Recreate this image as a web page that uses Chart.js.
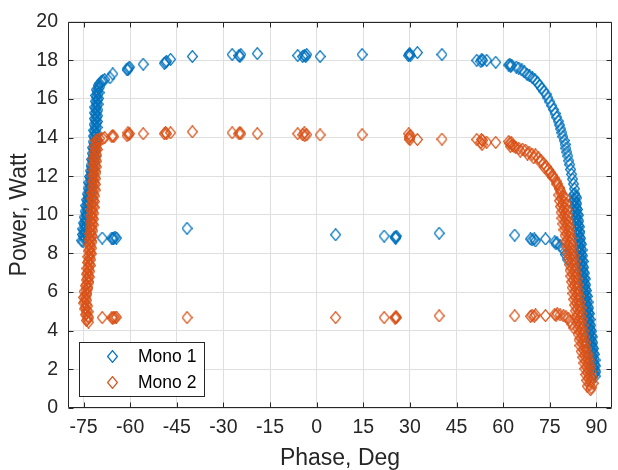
<!DOCTYPE html>
<html>
<head>
<meta charset="utf-8">
<script src="https://cdn.jsdelivr.net/npm/chart.js@4.4.1/dist/chart.umd.min.js"></script>
<style>
  html, body { margin: 0; padding: 0; background: #fff; }
  canvas { display: block; }
</style>
</head>
<body>
<canvas id="myChart" width="618" height="470"></canvas>
<script>
// axis ticks
const xTicks = [-75, -60, -45, -30, -15, 0, 15, 30, 45, 60, 75, 90];
const yTicks = [0, 2, 4, 6, 8, 10, 12, 14, 16, 18, 20];

// Mono 1: steep rise at the left edge (two sweeps)
const m1RisePhase = [-75.2, -74.8, -75.1, -74.7, -74.9, -74.5, -74.7, -74.3, -74.5, -74.1,
  -74.2, -73.8, -74.0, -73.6, -73.7, -73.3, -73.5, -73.1, -73.2, -72.8,
  -73.0, -72.6, -72.8, -72.4, -72.5, -72.1, -72.3, -71.9, -72.1, -71.7,
  -71.9, -71.5, -71.8, -71.4, -71.6, -71.2, -71.5, -71.1, -71.4, -71.0,
  -71.3, -70.9, -71.2, -70.8, -71.1, -70.7, -71.0, -70.7, -70.9, -70.5,
  -70.8, -70.4, -70.6, -70.2, -70.3, -69.8, -69.3, -68.8, -68.2];
const m1RisePower = [8.6, 8.75, 8.9, 9.05, 9.2, 9.35, 9.5, 9.65, 9.8, 9.95,
  10.1, 10.25, 10.4, 10.55, 10.7, 10.85, 11.0, 11.15, 11.3, 11.45,
  11.6, 11.75, 11.9, 12.05, 12.2, 12.35, 12.5, 12.65, 12.8, 12.95,
  13.1, 13.25, 13.4, 13.55, 13.7, 13.85, 14.0, 14.15, 14.3, 14.45,
  14.6, 14.75, 14.9, 15.05, 15.2, 15.35, 15.5, 15.65, 15.8, 15.95,
  16.1, 16.25, 16.4, 16.55, 16.7, 16.8, 16.9, 16.95, 17.0];
const m1Rise2Phase = [-75.5, -74.4, -75.35, -74.25, -75.2, -74.05, -75.0, -73.9, -74.8, -73.65,
  -74.5, -73.4, -74.3, -73.15, -74.0, -72.9, -73.8, -72.65, -73.5, -72.4,
  -73.3, -72.2, -73.1, -71.95, -72.8, -71.7, -72.6, -71.5, -72.4, -71.3,
  -72.2, -71.15, -72.1, -71.0, -71.9, -70.85, -71.8, -70.75, -71.7, -70.65,
  -71.6, -70.55, -71.5, -70.45, -71.4, -70.35, -71.35, -70.3, -71.2, -70.15,
  -71.1, -70.0, -70.9, -69.75];
const m1Rise2Power = [8.68, 8.83, 8.98, 9.13, 9.28, 9.43, 9.58, 9.73, 9.88, 10.03,
  10.18, 10.33, 10.48, 10.63, 10.78, 10.93, 11.08, 11.23, 11.38, 11.53,
  11.68, 11.83, 11.98, 12.13, 12.28, 12.43, 12.58, 12.73, 12.88, 13.03,
  13.18, 13.33, 13.48, 13.63, 13.78, 13.93, 14.08, 14.23, 14.38, 14.53,
  14.68, 14.83, 14.98, 15.13, 15.28, 15.43, 15.58, 15.73, 15.88, 16.03,
  16.18, 16.33, 16.48, 16.63];

// Mono 1: upper plateau
const m1TopPhase = [-66.5, -65.6, -61.0, -60.5, -60.2, -60.8, -55.8, -49.0, -48.6, -48.3,
  -47.0, -40.0, -27.2, -25.0, -24.7, -24.4, -19.1, -6.1, -4.5, -4.0,
  -3.5, -3.2, 1.1, 14.6, 29.5, 29.8, 30.1, 29.9, 32.4, 40.3,
  51.5, 52.8, 53.1, 53.4, 54.7, 57.6];
const m1TopPower = [17.1, 17.3, 17.55, 17.6, 17.65, 17.5, 17.8, 17.85, 17.9, 17.95,
  18.05, 18.2, 18.3, 18.25, 18.2, 18.3, 18.35, 18.25, 18.2, 18.25,
  18.2, 18.3, 18.2, 18.3, 18.25, 18.3, 18.25, 18.35, 18.4, 18.3,
  18.0, 17.95, 18.05, 18.0, 18.0, 17.9];

// Mono 1: roll-off on the right
const m1FallPhase = [61.8, 62.1, 62.4, 62.7, 64.2, 65.0, 66.0, 66.8, 67.7, 68.5,
  69.4, 70.2, 71.0, 71.7, 72.4, 73.1, 73.8, 74.4, 75.0, 75.6,
  76.2, 76.7, 77.2, 77.7, 78.1, 78.5, 78.9, 79.2, 79.6, 79.9,
  80.2, 80.5, 80.8, 81.1, 81.4, 81.7, 82.0, 82.3, 82.6, 82.9];
const m1FallPower = [17.75, 17.8, 17.7, 17.75, 17.65, 17.6, 17.5, 17.4, 17.27, 17.2,
  17.1, 17.0, 16.85, 16.7, 16.55, 16.4, 16.25, 16.05, 15.85, 15.65,
  15.45, 15.25, 15.05, 14.85, 14.65, 14.45, 14.25, 14.05, 13.85, 13.65,
  13.45, 13.25, 13.05, 12.8, 12.6, 12.35, 12.1, 11.85, 11.6, 11.35];
const m1TailPhase = [83.0, 83.3, 83.0, 83.4, 83.2, 83.6, 83.4, 83.8, 83.6, 84.0,
  83.8, 84.2, 84.0, 84.4, 84.2, 84.6, 84.4, 84.8, 84.6, 85.0,
  84.8, 85.2, 85.0, 85.4, 85.2, 85.6, 85.4, 85.8, 85.6, 86.0,
  85.8, 86.2, 86.1, 86.5, 86.3, 86.7, 86.5, 86.9, 86.8, 87.2,
  87.0, 87.4, 87.2, 87.6, 87.4, 87.8, 87.7, 88.1, 87.9, 88.3,
  88.1, 88.5, 88.4, 88.8, 88.6, 89.0, 88.8, 89.2, 89.0, 89.4,
  89.2, 89.5, 89.4, 89.6];
const m1TailPower = [11.1, 10.95, 10.8, 10.65, 10.5, 10.35, 10.2, 10.05, 9.9, 9.75,
  9.6, 9.45, 9.3, 9.15, 9.0, 8.85, 8.7, 8.55, 8.4, 8.25,
  8.1, 7.95, 7.8, 7.65, 7.5, 7.35, 7.2, 7.05, 6.9, 6.75,
  6.6, 6.45, 6.3, 6.15, 6.0, 5.85, 5.7, 5.55, 5.4, 5.25,
  5.1, 4.95, 4.8, 4.65, 4.5, 4.35, 4.2, 4.05, 3.9, 3.75,
  3.6, 3.45, 3.3, 3.15, 3.0, 2.85, 2.7, 2.55, 2.4, 2.25,
  2.1, 1.95, 1.8, 1.65];
const m1Tail2Phase = [82.7, 83.65, 82.75, 83.7, 82.9, 83.9, 83.1, 84.15, 83.35, 84.35,
  83.55, 84.55, 83.7, 84.7, 83.9, 84.9, 84.15, 85.15, 84.35, 85.35,
  84.55, 85.55, 84.7, 85.7, 84.9, 85.9, 85.15, 86.15, 85.35, 86.35,
  85.55, 86.55, 85.75, 86.75, 86.0, 87.0, 86.25, 87.3, 86.5, 87.5,
  86.75, 87.75, 86.95, 87.95, 87.15, 88.15, 87.35, 88.35, 87.55, 88.6,
  87.85, 88.85, 88.05, 89.05, 88.25, 89.3, 88.55, 89.55, 88.75, 89.7,
  88.9, 89.85, 89.05];
const m1Tail2Power = [11.03, 10.88, 10.73, 10.58, 10.43, 10.28, 10.13, 9.98, 9.83, 9.68,
  9.53, 9.38, 9.23, 9.08, 8.93, 8.78, 8.63, 8.48, 8.33, 8.18,
  8.03, 7.88, 7.73, 7.58, 7.43, 7.28, 7.13, 6.98, 6.83, 6.68,
  6.53, 6.38, 6.23, 6.08, 5.93, 5.78, 5.63, 5.48, 5.33, 5.18,
  5.03, 4.88, 4.73, 4.58, 4.43, 4.28, 4.13, 3.98, 3.83, 3.68,
  3.53, 3.38, 3.23, 3.08, 2.93, 2.78, 2.63, 2.48, 2.33, 2.18,
  2.03, 1.88, 1.73];

// Mono 1: lower level points
const m1LowPhase = [-69.0, -65.9, -65.6, -65.3, -64.9, -64.4, -41.7, 6.1, 21.7, 25.2,
  25.4, 25.6, 25.5, 39.4, 63.7, 68.8, 69.3, 70.0, 70.4, 73.6,
  76.6, 77.0, 77.3, 78.3, 79.3, 80.0, 80.6];
const m1LowPower = [8.8, 8.8, 8.75, 8.8, 8.85, 8.8, 9.3, 8.97, 8.9, 8.85,
  8.8, 8.9, 8.85, 9.05, 8.95, 8.75, 8.7, 8.75, 8.65, 8.75,
  8.6, 8.5, 8.55, 8.4, 8.2, 7.95, 7.7];

// Mono 2: steep rise at the left edge (two sweeps)
const m2RisePhase = [-73.4, -73.8, -73.6, -74.1, -73.9, -74.4, -74.2, -74.6, -74.3, -74.5,
  -74.0, -74.2, -73.7, -74.0, -73.5, -73.8, -73.4, -73.7, -73.3, -73.5,
  -73.1, -73.4, -73.0, -73.2, -72.8, -73.1, -72.7, -73.0, -72.6, -72.8,
  -72.4, -72.7, -72.3, -72.6, -72.2, -72.5, -72.1, -72.4, -72.0, -72.3,
  -71.9, -72.2, -71.8, -72.1, -71.7, -72.0, -71.6, -71.9, -71.5, -71.8,
  -71.4, -71.7, -71.3, -71.6, -71.2, -71.5, -71.1, -71.4, -71.0, -71.3,
  -70.9, -71.2, -70.8, -71.0];
const m2RisePower = [4.45, 4.6, 4.75, 4.9, 5.05, 5.2, 5.35, 5.5, 5.65, 5.8,
  5.95, 6.1, 6.25, 6.4, 6.55, 6.7, 6.85, 7.0, 7.15, 7.3,
  7.45, 7.6, 7.75, 7.9, 8.05, 8.2, 8.35, 8.5, 8.65, 8.8,
  8.95, 9.1, 9.25, 9.4, 9.55, 9.7, 9.85, 10.0, 10.15, 10.3,
  10.45, 10.6, 10.75, 10.9, 11.05, 11.2, 11.35, 11.5, 11.65, 11.8,
  11.95, 12.1, 12.25, 12.4, 12.55, 12.7, 12.85, 13.0, 13.15, 13.3,
  13.45, 13.6, 13.75, 13.85];
const m2Rise2Phase = [-74.1, -73.3, -74.4, -73.5, -74.6, -73.7, -74.9, -74.0, -75.0, -73.9,
  -74.8, -73.6, -74.4, -73.3, -74.1, -73.1, -74.0, -73.0, -73.9, -72.8,
  -73.7, -72.7, -73.6, -72.5, -73.4, -72.4, -73.3, -72.3, -73.2, -72.1,
  -73.0, -72.0, -72.9, -71.9, -72.8, -71.8, -72.7, -71.7, -72.6, -71.6,
  -72.5, -71.5, -72.4, -71.4, -72.3, -71.3, -72.2, -71.2, -72.1, -71.1,
  -72.0, -71.0, -71.9, -70.9, -71.8, -70.8, -71.7, -70.7, -71.6, -70.6,
  -71.5, -70.5];
const m2Rise2Power = [4.53, 4.68, 4.83, 4.98, 5.13, 5.28, 5.43, 5.58, 5.73, 5.88,
  6.03, 6.18, 6.33, 6.48, 6.63, 6.78, 6.93, 7.08, 7.23, 7.38,
  7.53, 7.68, 7.83, 7.98, 8.13, 8.28, 8.43, 8.58, 8.73, 8.88,
  9.03, 9.18, 9.33, 9.48, 9.63, 9.78, 9.93, 10.08, 10.23, 10.38,
  10.53, 10.68, 10.83, 10.98, 11.13, 11.28, 11.43, 11.58, 11.73, 11.88,
  12.03, 12.18, 12.33, 12.48, 12.63, 12.78, 12.93, 13.08, 13.23, 13.38,
  13.53, 13.68];

// Mono 2: upper plateau
const m2TopPhase = [-70.5, -69.8, -68.8, -68.2, -65.9, -65.6, -65.3, -61.0, -60.5, -60.2,
  -60.7, -55.8, -49.0, -48.6, -48.3, -47.0, -40.0, -27.2, -25.0, -24.7,
  -24.4, -19.1, -6.1, -4.5, -4.0, -3.8, -3.2, 1.1, 14.6, 29.6,
  29.8, 30.0, 29.7, 30.1, 32.4, 40.3, 51.5, 52.8, 53.0, 53.2,
  53.4, 54.7, 57.6];
const m2TopPower = [13.9, 13.95, 13.95, 14.0, 14.05, 14.1, 14.05, 14.1, 14.15, 14.2,
  14.25, 14.2, 14.2, 14.25, 14.2, 14.25, 14.3, 14.25, 14.2, 14.25,
  14.2, 14.2, 14.2, 14.15, 14.25, 14.1, 14.15, 14.14, 14.15, 14.2,
  14.05, 13.9, 13.95, 14.1, 13.9, 13.92, 13.9, 13.75, 13.9, 13.65,
  13.85, 13.76, 13.75];

// Mono 2: roll-off on the right
const m2FallPhase = [61.8, 62.1, 62.3, 62.6, 63.0, 64.0, 65.0, 66.2, 67.2, 68.3,
  69.3, 70.4, 71.3, 72.2, 73.0, 73.8, 74.5, 75.2, 75.8, 76.4,
  77.0, 77.5, 78.0, 78.4, 63.5, 65.5, 67.8, 69.8, 71.8, 73.3,
  74.9, 76.0, 77.2, 78.2];
const m2FallPower = [13.8, 13.7, 13.55, 13.75, 13.6, 13.5, 13.45, 13.4, 13.35, 13.25,
  13.15, 13.1, 12.95, 12.8, 12.65, 12.5, 12.35, 12.2, 12.05, 11.9,
  11.75, 11.6, 11.4, 11.25, 13.55, 13.3, 13.15, 12.95, 12.75, 12.45,
  12.15, 11.95, 11.6, 11.35];
const m2TailPhase = [78.6, 79.2, 78.9, 79.5, 79.1, 79.7, 79.3, 79.9, 79.6, 80.3,
  79.9, 80.6, 80.2, 80.9, 80.5, 81.2, 80.8, 81.5, 81.0, 81.8,
  81.3, 82.1, 81.6, 82.4, 81.9, 82.7, 82.1, 82.9, 82.4, 83.2,
  82.6, 83.4, 82.9, 83.7, 83.1, 83.9, 83.3, 84.1, 83.6, 84.4,
  83.8, 84.6, 84.0, 84.8, 84.2, 85.0, 84.4, 85.2, 84.7, 85.5,
  85.0, 85.9, 85.4, 86.2, 85.8, 86.6, 86.2, 87.0, 86.6, 87.3,
  86.9, 87.6, 87.2, 87.9, 87.5, 88.1, 87.9, 88.3, 88.1];
const m2TailPower = [11.1, 10.95, 10.8, 10.65, 10.5, 10.35, 10.2, 10.05, 9.9, 9.75,
  9.6, 9.45, 9.3, 9.15, 9.0, 8.85, 8.7, 8.55, 8.4, 8.25,
  8.1, 7.95, 7.8, 7.65, 7.5, 7.35, 7.2, 7.05, 6.9, 6.75,
  6.6, 6.45, 6.3, 6.15, 6.0, 5.85, 5.7, 5.55, 5.4, 5.25,
  5.1, 4.95, 4.8, 4.65, 4.5, 4.35, 4.2, 4.05, 3.9, 3.75,
  3.6, 3.45, 3.3, 3.15, 3.0, 2.85, 2.7, 2.55, 2.4, 2.25,
  2.1, 1.95, 1.8, 1.65, 1.5, 1.35, 1.2, 1.05, 0.95];
const m2Tail2Phase = [77.9, 80.0, 78.1, 80.3, 78.45, 80.55, 78.65, 80.75, 78.9, 81.05,
  79.2, 81.4, 79.55, 81.75, 79.9, 82.0, 80.15, 82.25, 80.4, 82.55,
  80.7, 82.85, 80.95, 83.1, 81.25, 83.4, 81.5, 83.65, 81.75, 83.85,
  82.0, 84.1, 82.2, 84.35, 82.45, 84.6, 82.7, 84.85, 82.95, 85.05,
  83.2, 85.3, 83.4, 85.55, 83.65, 85.75, 83.85, 85.95, 84.1, 86.25,
  84.4, 86.55, 84.7, 86.9, 85.1, 87.35, 85.6, 87.8, 85.95, 88.1,
  86.25, 88.4, 86.55, 88.7, 86.85, 88.95, 87.05];
const m2Tail2Power = [11.03, 10.88, 10.73, 10.58, 10.43, 10.28, 10.13, 9.98, 9.83, 9.68,
  9.53, 9.38, 9.23, 9.08, 8.93, 8.78, 8.63, 8.48, 8.33, 8.18,
  8.03, 7.88, 7.73, 7.58, 7.43, 7.28, 7.13, 6.98, 6.83, 6.68,
  6.53, 6.38, 6.23, 6.08, 5.93, 5.78, 5.63, 5.48, 5.33, 5.18,
  5.03, 4.88, 4.73, 4.58, 4.43, 4.28, 4.13, 3.98, 3.83, 3.68,
  3.53, 3.38, 3.23, 3.08, 2.93, 2.78, 2.63, 2.48, 2.33, 2.18,
  2.03, 1.88, 1.73, 1.58, 1.43, 1.28, 1.13];

// Mono 2: lower level points
const m2LowPhase = [-69.0, -65.9, -65.6, -65.3, -64.9, -64.4, -41.7, 6.1, 21.7, 25.2,
  25.4, 25.6, 25.5, 39.4, 63.7, 68.8, 69.3, 70.0, 70.4, 73.6,
  76.6, 77.0, 77.4, 78.3, 79.4, 80.2, 80.9, 81.5, 82.1, 82.7];
const m2LowPower = [4.68, 4.68, 4.65, 4.7, 4.68, 4.7, 4.68, 4.68, 4.68, 4.65,
  4.7, 4.68, 4.72, 4.77, 4.77, 4.75, 4.8, 4.75, 4.82, 4.78,
  4.85, 4.8, 4.88, 4.82, 4.77, 4.72, 4.65, 4.5, 4.35, 4.15];

const blue = "#0072BD";
const orange = "#D95319";
const axisColor = "#262626";
const fontFamily = "'Liberation Sans', Arial, sans-serif";

function pairs(xs, ys) {
  return xs.map((x, i) => ({ x: x, y: ys[i] }));
}

// MATLAB style hollow diamond marker
function makeDiamond(color) {
  const c = document.createElement("canvas");
  c.width = 11;
  c.height = 13;
  const g = c.getContext("2d");
  g.strokeStyle = color;
  g.lineWidth = 1.2;
  g.beginPath();
  g.moveTo(5.5, 0.6);
  g.lineTo(10.4, 6.5);
  g.lineTo(5.5, 12.4);
  g.lineTo(0.6, 6.5);
  g.closePath();
  g.stroke();
  return c;
}

const mono1 = [].concat(
  pairs(m1RisePhase, m1RisePower),
  pairs(m1Rise2Phase, m1Rise2Power),
  pairs(m1TopPhase, m1TopPower),
  pairs(m1FallPhase, m1FallPower),
  pairs(m1TailPhase, m1TailPower),
  pairs(m1Tail2Phase, m1Tail2Power),
  pairs(m1LowPhase, m1LowPower)
);
const mono2 = [].concat(
  pairs(m2RisePhase, m2RisePower),
  pairs(m2Rise2Phase, m2Rise2Power),
  pairs(m2TopPhase, m2TopPower),
  pairs(m2FallPhase, m2FallPower),
  pairs(m2TailPhase, m2TailPower),
  pairs(m2Tail2Phase, m2Tail2Power),
  pairs(m2LowPhase, m2LowPower)
);

// box, inward ticks and legend drawn like MATLAB
const matlabAxes = {
  id: "matlabAxes",
  afterDatasetsDraw(chart) {
    const ctx = chart.ctx;
    const a = chart.chartArea;
    const xs = chart.scales.x;
    const ys = chart.scales.y;
    const l = Math.round(a.left) + 0.5;
    const r = Math.round(a.right) - 0.5;
    const t = Math.round(a.top) + 0.5;
    const b = Math.round(a.bottom) - 0.5;
    ctx.save();
    ctx.strokeStyle = axisColor;
    ctx.lineWidth = 1;
    ctx.beginPath();
    ctx.rect(l, t, r - l, b - t);
    xTicks.forEach(function (v) {
      const px = Math.round(xs.getPixelForValue(v)) + 0.5;
      ctx.moveTo(px, b);
      ctx.lineTo(px, b - 5);
      ctx.moveTo(px, t);
      ctx.lineTo(px, t + 5);
    });
    yTicks.forEach(function (v) {
      const py = Math.round(ys.getPixelForValue(v)) + 0.5;
      ctx.moveTo(l, py);
      ctx.lineTo(l + 5, py);
      ctx.moveTo(r, py);
      ctx.lineTo(r - 5, py);
    });
    ctx.stroke();
    ctx.restore();
  },
  afterDraw(chart) {
    const ctx = chart.ctx;
    const bx = 79.5, by = 342.5, bw = 125, bh = 54;
    ctx.save();
    ctx.fillStyle = "#fff";
    ctx.fillRect(bx, by, bw, bh);
    ctx.strokeStyle = axisColor;
    ctx.lineWidth = 1;
    ctx.strokeRect(bx, by, bw, bh);
    ctx.font = "17.5px " + fontFamily;
    ctx.fillStyle = "#000";
    ctx.textBaseline = "middle";
    chart.data.datasets.forEach(function (ds, i) {
      const cy = 356 + i * 26;
      const img = ds.pointStyle;
      ctx.drawImage(img, Math.round(112 - img.width / 2), Math.round(cy - img.height / 2));
      ctx.fillText(ds.label, 138, cy + 1);
    });
    ctx.restore();
  },
};

Chart.defaults.font.family = fontFamily;
Chart.defaults.color = axisColor;

const config = {
  type: "scatter",
  data: {
    datasets: [
      {
        label: "Mono 1",
        data: mono1,
        pointStyle: makeDiamond(blue),
        pointRadius: 5,
        borderColor: blue,
        backgroundColor: "rgba(0,0,0,0)",
        order: 1,
      },
      {
        label: "Mono 2",
        data: mono2,
        pointStyle: makeDiamond(orange),
        pointRadius: 5,
        borderColor: orange,
        backgroundColor: "rgba(0,0,0,0)",
        order: 0,
      },
    ],
  },
  options: {
    responsive: false,
    animation: false,
    layout: { padding: { top: 16, right: 1, left: 0, bottom: 0 } },
    plugins: {
      legend: { display: false },
      tooltip: { enabled: false },
    },
    scales: {
      x: {
        type: "linear",
        min: -80,
        max: 95,
        afterBuildTicks: function (s) {
          s.ticks = xTicks.map((v) => ({ value: v }));
        },
        afterFit: function (s) {
          s.height = 62;
        },
        grid: { color: "#dfdfdf", drawTicks: false },
        border: { display: false },
        ticks: {
          padding: 8,
          maxRotation: 0,
          autoSkip: false,
          font: { size: 19.5 },
          color: axisColor,
        },
        title: {
          display: true,
          text: "Phase, Deg",
          font: { size: 23, lineHeight: 1 },
          color: axisColor,
          padding: { top: 0, bottom: 0 },
        },
      },
      y: {
        type: "linear",
        min: 0,
        max: 20,
        afterBuildTicks: function (s) {
          s.ticks = yTicks.map((v) => ({ value: v }));
        },
        afterFit: function (s) {
          s.width = 68;
        },
        grid: { color: "#dfdfdf", drawTicks: false },
        border: { display: false },
        ticks: {
          padding: 10,
          font: { size: 19.5 },
          color: axisColor,
        },
        title: {
          display: true,
          text: "Power, Watt",
          font: { size: 23, lineHeight: 1 },
          color: axisColor,
          padding: { top: 8, bottom: 0 },
        },
      },
    },
  },
  plugins: [matlabAxes],
};

const myChart = new Chart(document.getElementById("myChart"), config);
</script>
</body>
</html>
